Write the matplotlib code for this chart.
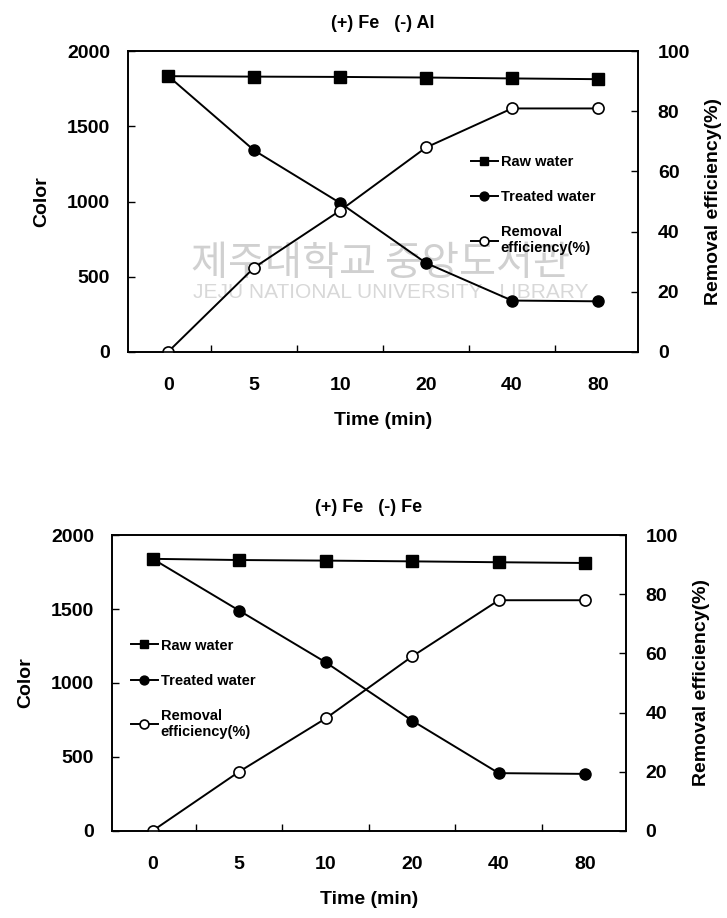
"""Color removal over time for two electrode pairs (raw / treated / efficiency)."""

import matplotlib.pyplot as plt

plt.rcParams["font.family"] = ["Liberation Sans", "DejaVu Sans"]
plt.rcParams["font.weight"] = "bold"
plt.rcParams["axes.labelweight"] = "bold"
plt.rcParams["axes.titleweight"] = "bold"

TIMES = ["0", "5", "10", "20", "40", "80"]

# (+) Fe (-) Al
RAW_AL = [1835, 1832, 1830, 1826, 1820, 1815]
TREATED_AL = [1835, 1340, 990, 590, 340, 335]
REMOVAL_AL = [0, 28, 47, 68, 81, 81]

# (+) Fe (-) Fe
RAW_FE = [1840, 1832, 1828, 1823, 1817, 1812]
TREATED_FE = [1840, 1490, 1140, 745, 390, 385]
REMOVAL_FE = [0, 20, 38, 59, 78, 78]

PANELS = [
    ("(+) Fe   (-) Al", RAW_AL, TREATED_AL, REMOVAL_AL,
     [0.176, 0.617, 0.702, 0.327], (0.66, 0.675)),
    ("(+) Fe   (-) Fe", RAW_FE, TREATED_FE, REMOVAL_FE,
     [0.154, 0.095, 0.707, 0.322], (0.025, 0.67)),
]


def draw_panel(fig, title, raw, treated, removal, rect, legend_xy):
    ax = fig.add_axes(rect)
    ax2 = ax.twinx()
    ax.set_facecolor("none")
    ax2.set_facecolor("none")
    x = list(range(len(TIMES)))

    h1, = ax.plot(x, raw, "-s", color="black", lw=1.4, ms=8, label="Raw water")
    h2, = ax.plot(x, treated, "-o", color="black", lw=1.4, ms=8, label="Treated water")
    h3, = ax2.plot(x, removal, "-o", color="black", lw=1.4, ms=8,
                   mfc="white", mec="black", mew=1.2, label="Removal\nefficiency(%)")

    ax.set_xlim(-0.47, len(TIMES) - 0.53)
    ax.set_ylim(0, 2000)
    ax2.set_ylim(0, 100)
    ax.set_yticks([0, 500, 1000, 1500, 2000])
    ax2.set_yticks([0, 20, 40, 60, 80, 100])

    ax.set_xticks(x)
    ax.set_xticklabels(TIMES)
    ax.tick_params(axis="x", length=0, pad=18, labelsize=14)
    ax.set_xticks([v + 0.5 for v in x[:-1]], minor=True)
    ax.tick_params(axis="x", which="minor", direction="in", length=5, width=1)
    ax.tick_params(axis="y", direction="in", length=5, width=1, pad=13, labelsize=14)
    ax2.tick_params(axis="y", direction="in", length=5, width=1, pad=14, labelsize=14)

    for a in (ax, ax2):
        for s in a.spines.values():
            s.set_linewidth(1.2)

    ax.set_xlabel("Time (min)", fontsize=14, labelpad=13)
    ax.set_ylabel("Color", fontsize=14, labelpad=12)
    ax2.set_ylabel("Removal efficiency(%)", fontsize=14, labelpad=11)
    ax.set_title(title, fontsize=13, pad=17)

    ax2.legend(handles=[h1, h2, h3], loc="upper left", bbox_to_anchor=legend_xy,
               frameon=False, handlelength=1.9, handletextpad=0.15,
               labelspacing=1.45, borderaxespad=0, markerscale=0.8,
               prop={"size": 10.5, "weight": "bold"})
    return ax


def main():
    fig = plt.figure(figsize=(7.27, 9.18), dpi=100)

    # faint library watermark from the scan, kept behind the data
    fig.text(0.524, 0.713, "제주대학교 중앙도서관", fontsize=29, color="#d0d0d0",
             family=["Noto Sans CJK KR", "DejaVu Sans"], weight="normal",
             ha="center", va="center", zorder=-1)
    fig.text(0.537, 0.681, "JEJU NATIONAL UNIVERSITY   LIBRARY", fontsize=15, color="#d8d8d8",
             weight="normal", ha="center", va="center", zorder=-1)

    for title, raw, treated, removal, rect, legend_xy in PANELS:
        draw_panel(fig, title, raw, treated, removal, rect, legend_xy)

    fig.savefig("out.png", dpi=100)


if __name__ == "__main__":
    main()
